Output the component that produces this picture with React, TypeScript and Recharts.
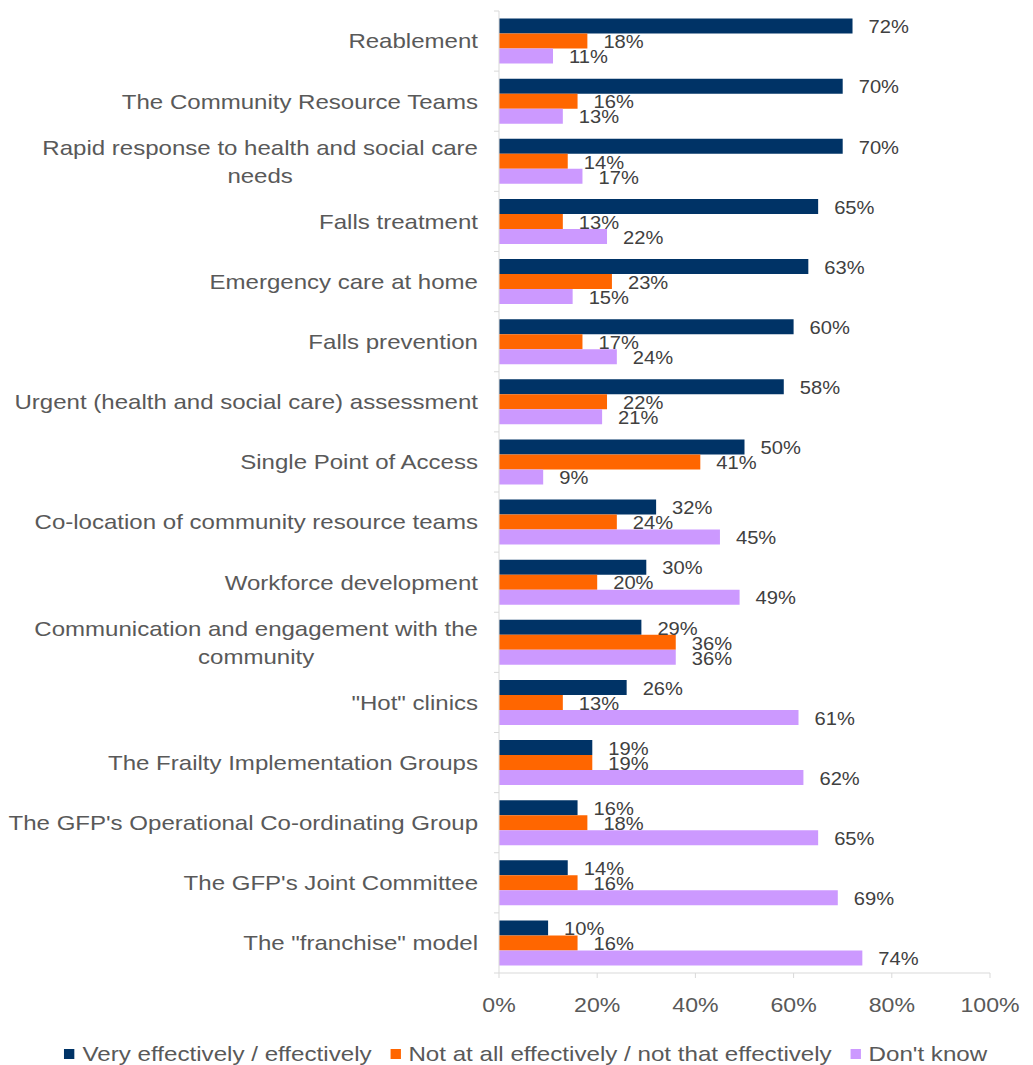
import React from 'react';
import { BarChart, Bar, XAxis, YAxis, LabelList } from 'recharts';

const categories = [
  'Reablement',
  'The Community Resource Teams',
  'Rapid response to health and social care\nneeds',
  'Falls treatment',
  'Emergency care at home',
  'Falls prevention',
  'Urgent (health and social care) assessment',
  'Single Point of Access',
  'Co-location of community resource teams',
  'Workforce development',
  'Communication and engagement with the\ncommunity',
  '"Hot" clinics',
  'The Frailty Implementation Groups',
  "The GFP's Operational Co-ordinating Group",
  "The GFP's Joint Committee",
  'The "franchise" model',
];
const effective = [72, 70, 70, 65, 63, 60, 58, 50, 32, 30, 29, 26, 19, 16, 14, 10];
const notEffective = [18, 16, 14, 13, 23, 17, 22, 41, 24, 20, 36, 13, 19, 18, 16, 16];
const dontKnow = [11, 13, 17, 22, 15, 24, 21, 9, 45, 49, 36, 61, 62, 65, 69, 74];
const xTicks = [0, 20, 40, 60, 80, 100];

const series = [
  { key: 'effective', name: 'Very effectively / effectively', color: '#003366' },
  { key: 'notEffective', name: 'Not at all effectively / not that effectively', color: '#FF6600' },
  { key: 'dontKnow', name: "Don't know", color: '#CC99FF' },
];

const data = categories.map((name, i) => ({
  name,
  effective: effective[i],
  notEffective: notEffective[i],
  dontKnow: dontKnow[i],
}));

const FONT = '"Liberation Sans", Arial, sans-serif';
const SX = 1.145; // the reference text is slightly stretched horizontally
const AXIS_GREY = '#d9d9d9';
const TEXT_GREY = '#595959';

const CHART_W = 1017;
const CHART_H = 1020;
const MARGIN = { top: 3, right: 35, left: 0, bottom: 0 };
const Y_WIDTH = 491;
const X_HEIGHT = 55;
const PLOT_H = CHART_H - MARGIN.top - MARGIN.bottom - X_HEIGHT;
const BAND = PLOT_H / categories.length;
const CAT_FONT = 21;
const TICK_MARGIN = 21;

let ctx: CanvasRenderingContext2D | null = null;
function textWidth(s: string, size: number) {
  if (!ctx) ctx = document.createElement('canvas').getContext('2d');
  if (!ctx) return s.length * size * 0.5;
  ctx.font = `${size}px "Liberation Sans", Arial, sans-serif`;
  return ctx.measureText(s).width;
}

const CategoryTick = (props: any) => {
  const { x, y, payload, index } = props;
  const lines = String(payload.value).split('\n');
  const axisX = x + TICK_MARGIN;
  const w = Math.max(...lines.map((l) => textWidth(l, CAT_FONT)));
  const lh = 28;
  const multi = lines.length > 1;
  return (
    <g>
      <line x1={axisX - 5} x2={axisX} y1={y - BAND / 2} y2={y - BAND / 2} stroke={AXIS_GREY} />
      {index === categories.length - 1 && (
        <line x1={axisX - 5} x2={axisX} y1={y + BAND / 2} y2={y + BAND / 2} stroke={AXIS_GREY} />
      )}
      <g transform={`translate(${x},${y}) scale(${SX},1)`}>
        <text
          x={multi ? -w / 2 : 0}
          y={0}
          textAnchor={multi ? 'middle' : 'end'}
          fontFamily={FONT}
          fontSize={CAT_FONT}
          fill={TEXT_GREY}
        >
          {lines.map((l, i) => (
            <tspan key={i} x={multi ? -w / 2 : 0} y={(i - (lines.length - 1) / 2) * lh} dy="0.35em">
              {l}
            </tspan>
          ))}
        </text>
      </g>
    </g>
  );
};

const PercentTick = (props: any) => {
  const { x, y, payload } = props;
  return (
    <g transform={`translate(${x},${y}) scale(1.1,1)`}>
      <text x={0} y={0} dy="0.71em" textAnchor="middle" fontFamily={FONT} fontSize={21} fill={TEXT_GREY}>
        {`${payload.value}%`}
      </text>
    </g>
  );
};

const ValueLabel = (props: any) => {
  const { x, y, width, height, value } = props;
  return (
    <g transform={`translate(${x + width + 16},${y + height / 2 + 1}) scale(1.12,1)`}>
      <text x={0} y={0} dy="0.35em" textAnchor="start" fontFamily={FONT} fontSize={18} fill="#404040">
        {`${value}%`}
      </text>
    </g>
  );
};

export default function App() {
  return (
    <div style={{ width: CHART_W, fontFamily: FONT }}>
      <BarChart
        width={CHART_W}
        height={CHART_H}
        data={data}
        layout="vertical"
        margin={MARGIN}
        barCategoryGap="12.5%"
        barGap={0}
      >
        <XAxis
          type="number"
          domain={[0, 100]}
          ticks={xTicks}
          height={X_HEIGHT}
          stroke={AXIS_GREY}
          tickSize={5}
          tickMargin={19}
          tick={<PercentTick />}
          interval={0}
        />
        <YAxis
          type="category"
          dataKey="name"
          width={Y_WIDTH}
          stroke={AXIS_GREY}
          tickLine={false}
          tickSize={0}
          tickMargin={TICK_MARGIN}
          tick={<CategoryTick />}
          interval={0}
        />
        {series.map((s) => (
          <Bar key={s.key} dataKey={s.key} name={s.name} fill={s.color} isAnimationActive={false}>
            <LabelList dataKey={s.key} content={<ValueLabel />} />
          </Bar>
        ))}
      </BarChart>
      <div
        style={{
          marginTop: 13,
          height: 26,
          display: 'flex',
          justifyContent: 'center',
          alignItems: 'center',
          transform: 'scaleX(1.15)',
          paddingLeft: 16,
          fontSize: 21,
          color: TEXT_GREY,
          whiteSpace: 'nowrap',
        }}
      >
        {series.map((s, i) => (
          <span key={s.key} style={{ display: 'flex', alignItems: 'center', marginRight: i < series.length - 1 ? 16 : 0 }}>
            <span style={{ width: 9, height: 10, background: s.color, marginRight: 7, display: 'inline-block' }} />
            {s.name}
          </span>
        ))}
      </div>
    </div>
  );
}
